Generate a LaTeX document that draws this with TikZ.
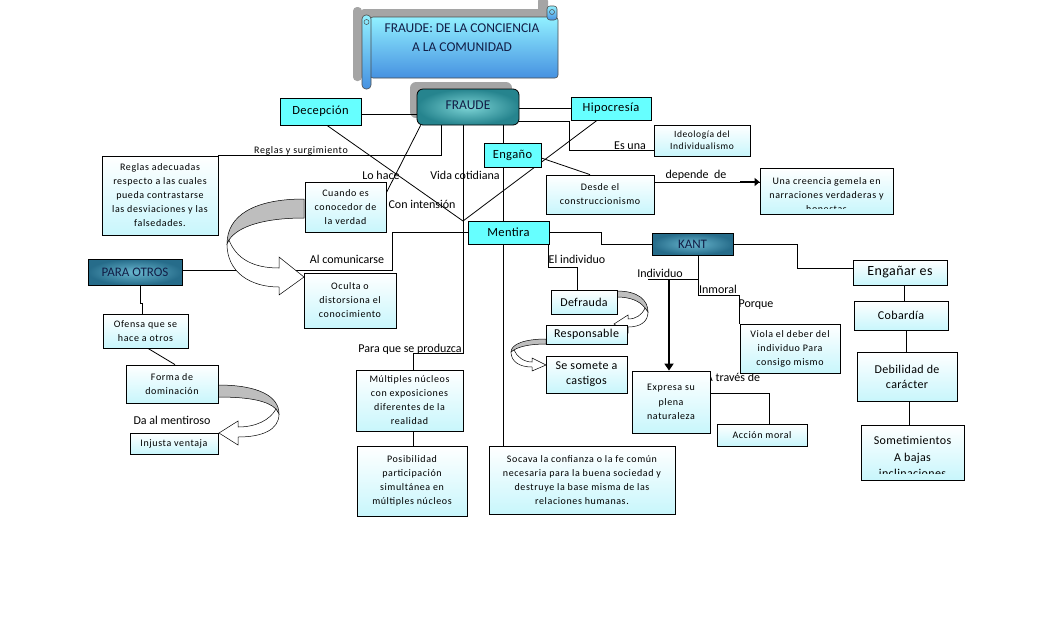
\documentclass[tikz,border=0pt]{standalone}
\usepackage{fontspec}
\setmainfont{Carlito}
\newfontfamily\spc[LetterSpace=6]{Carlito}
\newfontfamily\spb[LetterSpace=3]{Carlito}
\usetikzlibrary{arrows.meta}
\pgfdeclarelayer{bgzero}
\pgfdeclarelayer{bgone}
\pgfsetlayers{bgzero,bgone,main}
\definecolor{cyanbox}{RGB}{102,255,255}
\definecolor{pale}{RGB}{200,246,252}
\definecolor{tealD}{RGB}{38,132,142}
\definecolor{tealL}{RGB}{125,212,214}
\definecolor{steelD}{RGB}{38,108,138}
\definecolor{steelL}{RGB}{105,182,206}
\definecolor{scrollT}{RGB}{145,240,255}
\definecolor{scrollB}{RGB}{70,145,225}
\definecolor{navy}{RGB}{18,30,70}
\definecolor{curlgray}{RGB}{190,190,190}
\definecolor{shadowc}{RGB}{165,165,165}
\newcommand\mybox[6]{\node[#1, minimum width={(#4-#2)*1pt}, minimum height={(#5-#3)*1pt}] at ({(#2+#4)/2},{(#3+#5)/2}) {#6};}
\tikzset{
  conn/.style={draw=black, line width=0.8pt},
  cbox/.style={draw=black, line width=0.8pt, fill=cyanbox, inner sep=0pt, align=center, font=\spb\fontsize{12.5}{14}\selectfont},
  lbox/.style={draw=black, line width=0.8pt, top color=white, bottom color=pale, inner sep=0pt, align=center, font=\spc\fontsize{10}{14}\selectfont},
  mbox/.style={lbox, font=\spb\fontsize{12}{15}\selectfont},
  dbox/.style={draw=black, line width=0.8pt, inner color=steelL, outer color=steelD, inner sep=0pt, align=center, text=navy, font=\fontsize{13}{15}\selectfont},
  lbl/.style={inner sep=0pt, font=\fontsize{12}{14}\selectfont},
  slbl/.style={inner sep=0pt, font=\spc\fontsize{10}{12}\selectfont},
  curlg/.style={draw=black, line width=0.5pt, fill=curlgray},
  curlw/.style={draw=black, line width=0.5pt, fill=white},
  scrollpart/.style={top color=scrollT, bottom color=scrollB, draw=black!70, line width=0.6pt},
}
\begin{document}
\begin{tikzpicture}[x=1pt,y=-1pt]
\useasboundingbox (0,0) rectangle (1048,630);
\begin{pgfonlayer}{bgzero}
\fill[white] (0,0) rectangle (1048,630);
\begin{scope}[shift={(-9,-8)}]
 \fill[shadowc, rounded corners=3pt] (370,17) rectangle (558,78);
 \fill[shadowc, rounded corners=4pt] (362,15) rectangle (371,89);
 \fill[shadowc, rounded corners=3pt] (547,6) rectangle (557,20);
\end{scope}
\fill[shadowc, rounded corners=6pt] (410,82) rectangle (512,118);
\end{pgfonlayer}

% ---------- title scroll ----------
\shade[scrollpart, rounded corners=3pt] (370,17) rectangle (558,78);
\shade[scrollpart, rounded corners=4pt] (362,15) rectangle (371,89);
\shade[scrollpart, rounded corners=3pt] (547,6) rectangle (557,20);
\draw[black!70, line width=0.5pt] (366.5,22) circle (2.5);
\draw[black!70, line width=0.5pt] (552,12) circle (2.5);
\node[text=navy, align=center, font=\fontsize{13.5}{19}\selectfont, inner sep=0pt] (title) at (462,37.5) {FRAUDE: DE LA CONCIENCIA\\A LA COMUNIDAD};

% ---------- boxes ----------
\mybox{cbox,name=decep}{280}{98}{361}{125}{Decepción}
\mybox{cbox,name=hipo}{571}{97}{651}{120}{Hipocresía}
\mybox{cbox,name=engano}{484}{143}{541}{167}{Engaño}
\mybox{lbox,name=ideo,font=\spc\fontsize{9.5}{12}\selectfont}{654}{125}{750}{156}{Ideología del\\Individualismo}
\mybox{lbox,name=desde}{546}{175}{654}{214}{Desde el\\construccionismo}
\mybox{lbox,name=creencia}{760}{168}{893}{214}{}
\begin{scope}
 \clip (creencia.north west) rectangle ([yshift=6pt]creencia.south east);
 \node[inner sep=0pt, align=center, font=\spc\fontsize{10}{14}\selectfont, anchor=north] (creenciatxt) at ([yshift=-10pt]creencia.north) {Una creencia gemela en\\narraciones verdaderas y\\honestas};
\end{scope}
\mybox{lbox,name=reglas}{102}{156}{218}{235}{Reglas adecuadas\\respecto a las cuales\\pueda contrastarse\\las desviaciones y las\\falsedades.}
\mybox{lbox,name=cuando}{305}{182}{386}{232}{Cuando es\\conocedor de\\la verdad}
\mybox{cbox,name=mentira}{468}{221}{549}{244}{Mentira}
\mybox{dbox,name=kant}{652}{233}{733}{255}{KANT}
\mybox{dbox,name=paraotros}{88}{259}{182}{285}{PARA OTROS}
\mybox{lbox,name=oculta}{304}{273}{396}{328}{Oculta o\\distorsiona el\\conocimiento}
\mybox{mbox,name=enganar,font=\spb\fontsize{14}{16}\selectfont}{853}{260}{947}{285}{Engañar es}
\mybox{mbox,name=cobardia}{854}{301}{948}{330}{Cobardía}
\mybox{mbox,name=debilidad}{857}{352}{957}{401}{Debilidad de\\carácter}
\mybox{mbox,name=someti}{861}{425}{964}{480}{}
\begin{scope}
 \clip (someti.north west) rectangle ([yshift=7pt]someti.south east);
 \node[inner sep=0pt, align=center, font=\spb\fontsize{12}{16.5}\selectfont, anchor=north] (sometitxt) at ([yshift=-11.5pt]someti.north) {Sometimientos\\A bajas\\inclinaciones};
\end{scope}
\mybox{lbox,name=viola}{740}{324}{840}{373}{Viola el deber del\\individuo Para\\consigo mismo}
\mybox{mbox,name=defrauda}{551}{290}{617}{314}{Defrauda}
\mybox{mbox,name=responsable}{546}{325}{627}{344}{Responsable}
\mybox{mbox,name=somete}{546}{356}{627}{393}{Se somete a\\castigos}
\mybox{lbox,name=expresa,font=\spc\fontsize{10}{14.5}\selectfont}{632}{371}{710}{433}{Expresa su\\plena\\naturaleza}
\mybox{lbox,name=accion}{717}{424}{807}{446}{Acción moral}
\mybox{lbox,name=socava}{489}{446}{675}{514}{Socava la confianza o la fe común\\necesaria para la buena sociedad y\\destruye la base misma de las\\relaciones humanas.}
\mybox{lbox,name=ofensa}{103}{314}{188}{348}{Ofensa que se\\hace a otros}
\mybox{lbox,name=forma}{126}{365}{218}{403}{Forma de\\dominación}
\mybox{lbox,name=injusta}{130}{433}{218}{454}{Injusta ventaja}
\mybox{lbox,name=multiples}{356}{370}{463}{431}{Múltiples núcleos\\con exposiciones\\diferentes de la\\realidad}
\mybox{lbox,name=posib}{357}{446}{467}{516}{Posibilidad\\participación\\simultánea en\\múltiples núcleos}
\mybox{dbox,name=fraude,rounded corners=6pt,inner color=tealL,outer color=tealD,font=\fontsize{13.5}{15}\selectfont}{417}{89}{519}{125}{\raisebox{4pt}{FRAUDE}}

% ---------- helper coordinates ----------
\coordinate (k1) at (569,150);
\coordinate (k2) at (441,0);
\coordinate (k3) at (463,353);
\coordinate (k4) at (463,221);
\coordinate (k5) at (392,0);
\coordinate (k6) at (0,182);
\coordinate (k7) at (740,182);
\coordinate (k8) at (548,267);
\coordinate (k9) at (797,268);
\coordinate (k10) at (698,295);
\coordinate (k11) at (648,279);
\coordinate (k12) at (669,279);
\coordinate (k13) at (769,393);
\coordinate (k14) at (140,303);

\begin{pgfonlayer}{bgone}
% labels
\node[slbl] (l1) at (301,151) {Reglas y surgimiento};
\node[lbl] (l2) at (381,175) {Lo hace};
\node[lbl] (l3) at (465,175) {Vida cotidiana};
\node[lbl] (l4) at (422,204) {Con intensión};
\node[lbl] (l5) at (347,259) {Al comunicarse};
\node[lbl] (l6) at (577,259) {El individuo};
\node[lbl] (l7) at (630,146) {Es una};
\node[lbl] (l8) at (696,175) {depende\ \ de};
\node[lbl] (l9) at (660,273) {Individuo};
\node[lbl] (l10) at (718,289) {Inmoral};
\node[lbl] (l11) at (756,305) {Porque};
\node[lbl] (l12) at (733,377) {A través de};
\node[lbl] (l13) at (410,349) {Para que se produzca};
\node[lbl] (l14) at (172,420) {Da al mentiroso};

% connectors
\draw[conn] ([yshift=-2.5pt]decep.east) -- ([yshift=-2.5pt]decep.east -| fraude.west);
\draw[conn] (hipo.west) -- (hipo.west -| fraude.east);
\draw[conn] ([yshift=-14pt]fraude.east) -| (k1) -- (k1 -| ideo.west);
\draw[conn] ([xshift=-9.5pt]engano.north) -- ([xshift=-9.5pt]engano.north |- fraude.south);
\draw[conn] ([xshift=-9.5pt]engano.south) -- ([xshift=-9.5pt]engano.south |- socava.north);
\draw[conn] (k2 |- fraude.south) |- (reglas.north east);
\draw[conn] (k3 |- fraude.south) -- (k3) -| ([xshift=3.5pt]multiples.north);
\draw[conn] ([xshift=6.5pt]decep.south) -- (k4) -- ([xshift=-14pt]hipo.south);
\draw[conn] ([xshift=4pt]fraude.south west) -- ([yshift=-11pt]cuando.north east);
\draw[conn] (mentira.west) -- (k5 |- mentira.west) |- ([yshift=2pt]paraotros.east);
\draw[conn] ([yshift=-3pt]engano.east) -- ([xshift=-10pt]desde.north);
\draw[conn] (desde.east |- k6) -- (creencia.west |- k6);
\draw[line width=2.8pt, -{Triangle[length=5pt,width=8pt]}] (k7) -- (creencia.west |- k7);
\draw[conn] (mentira.east) -- ++(52,0) |- (kant.west);
\draw[conn] (k8 |- mentira.south) -- (k8) -| ([xshift=-7pt]defrauda.north);
\draw[conn] (kant.east) -| (k9) -- (k9 -| enganar.west);
\draw[conn] ([xshift=5.5pt]kant.south) -- (k10) -| (viola.north west);
\draw[conn] (k11) -- (k11 -| k10);
\draw[line width=2.5pt, -{Triangle[length=7pt,width=9pt]}] (k12) -- (k12 |- expresa.north);
\draw[conn] (expresa.east |- k13) -- (k13) -- (k13 |- accion.north);
\draw[conn] (k14 |- paraotros.south) -- (k14) -- ++(2,0) -- ([xshift=-3.5pt]ofensa.north);
\draw[conn] ([xshift=2.5pt]ofensa.south) -- ([xshift=3pt]forma.north);
\draw[conn] ([xshift=3.5pt]multiples.south) -- ([xshift=3.5pt]multiples.south |- posib.north);
\draw[conn] ([xshift=4pt]enganar.south) -- ([xshift=4pt]enganar.south |- cobardia.north);
\draw[conn] ([xshift=5pt]cobardia.south) -- ([xshift=5pt]cobardia.south |- debilidad.north);
\draw[conn] ([xshift=2pt]debilidad.south) -- ([xshift=2pt]debilidad.south |- someti.north);

% curled block arrows
\draw[curlg] (304,199) .. controls (255,199) and (227,215) .. (227,244) -- (229,240) .. controls (238,226) and (265,218) .. (304,218) -- cycle;
\draw[curlw] (227,244) .. controls (227,272) and (250,287) .. (279,287) -- (279,295) -- (304,277) -- (279,257) -- (279,268) .. controls (252,268) and (236,258) .. (229,240) -- cycle;

\draw[curlg] (218,385) .. controls (258,385) and (279,396) .. (279,414) -- (276,409) .. controls (268,401) and (250,397) .. (218,397) -- cycle;
\draw[curlw] (279,414) .. controls (279,430) and (262,437) .. (238,437) -- (238,445) -- (219,433) -- (238,421) -- (238,427) .. controls (256,427) and (270,420) .. (276,409) -- cycle;

\draw[curlg] (617,291) .. controls (638,291) and (648,300) .. (648,312) -- (645,308) .. controls (640,301) and (630,297) .. (617,297) -- cycle;
\draw[curlw] (648,312) .. controls (648,322) and (640,327) .. (628,327) -- (628,333) -- (614,324) -- (628,315) -- (628,319) .. controls (636,319) and (642,315) .. (645,308) -- cycle;

\draw[curlg] (546,339) .. controls (525,339) and (511,344) .. (511,352) -- (514,350) .. controls (520,346) and (532,344) .. (546,344) -- cycle;
\draw[curlw] (511,352) .. controls (511,362) and (520,367) .. (532,367) -- (532,371) -- (546,365) -- (532,358) -- (532,362) .. controls (524,362) and (517,357) .. (514,350) -- cycle;
\end{pgfonlayer}
\end{tikzpicture}
\end{document}
